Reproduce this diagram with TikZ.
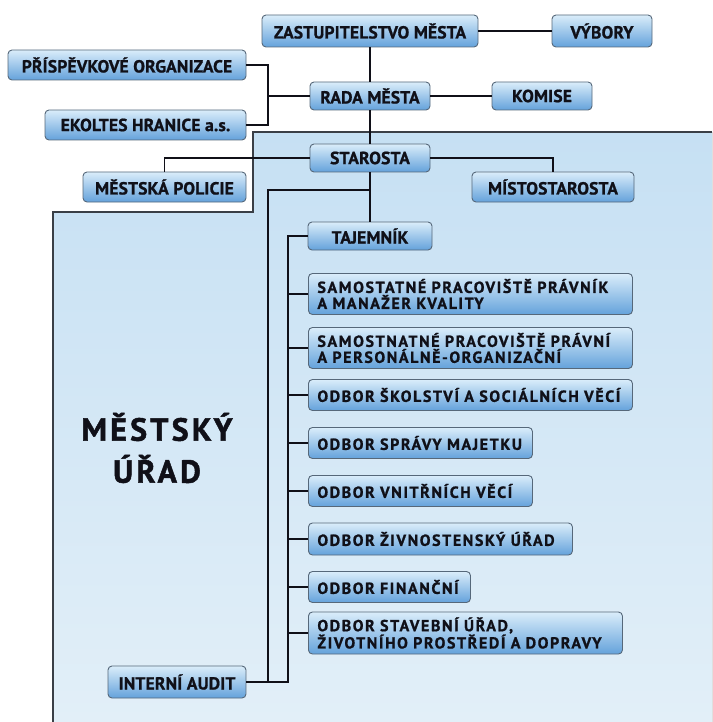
\documentclass[tikz,border=0pt]{standalone}
\usepackage{fontspec}
\usepackage{tikz}
\usetikzlibrary{positioning, calc}
\setmainfont{PT Sans}
\newfontfamily\boxfont[LetterSpace=1, BoldFeatures={FakeBold=1}]{PT Sans}
\newfontfamily\widefont[LetterSpace=10, BoldFeatures={FakeBold=1}]{PT Sans}
\newfontfamily\bigfont[LetterSpace=10, BoldFeatures={FakeBold=1.5}]{PT Sans}
\definecolor{ink}{HTML}{101018}
\definecolor{boxedge}{HTML}{56687A}
\definecolor{boxtop}{HTML}{DAEDFA}
\definecolor{boxmid}{HTML}{AFD4F1}
\definecolor{boxbot}{HTML}{64A2DB}
\definecolor{paneltop}{HTML}{C6E0F3}
\definecolor{panelbot}{HTML}{E2EFF8}
\definecolor{panelline}{HTML}{3A3F46}

\begin{document}
\begin{tikzpicture}[
  x=1pt, y=-1pt,
  unit/.style={rectangle, rounded corners=4pt, draw=boxedge, line width=0.9pt,
               top color=boxtop, middle color=boxmid, bottom color=boxbot,
               minimum height=28pt, inner sep=0pt, align=center,
               font=\boxfont\bfseries\fontsize{17.5}{18}\selectfont\color{ink}},
  odbor/.style={unit, anchor=west, align=left, inner xsep=9pt, text width=#1,
                font=\widefont\bfseries\fontsize{16}{16}\selectfont\color{ink}},
  link/.style={line width=1.4pt, draw=ink}
]
  \useasboundingbox (0,0) rectangle (712,722);

  % panel of the town office
  \fill[top color=paneltop, bottom color=panelbot]
    (253,132) -- (712,132) -- (712,722) -- (53,722) -- (53,212) -- (253,212) -- cycle;
  \draw[panelline, line width=1.2pt] (712,132) -- (253,132) -- (253,212) -- (53,212) -- (53,722);
  \node[font=\bigfont\bfseries\fontsize{32}{42}\selectfont\color{ink}, align=center] (urad) at (157,448) {MĚSTSKÝ\\ÚŘAD};

  % top level
  \node[unit, minimum width=216pt, minimum height=32pt] (zast) at (370,31) {ZASTUPITELSTVO MĚSTA};
  \node[unit, minimum width=100pt, minimum height=32pt] (vybory) at (602,31) {VÝBORY};
  \node[unit, minimum width=238pt, minimum height=30pt] (prisp) at (127,65) {PŘÍSPĚVKOVÉ ORGANIZACE};
  \node[unit, minimum width=120pt] (rada) at (370,96) {RADA MĚSTA};
  \node[unit, minimum width=100pt] (komise) at (542,96) {KOMISE};
  \node[unit, minimum width=201pt, minimum height=30pt] (ekoltes) at (145.5,125) {EKOLTES HRANICE a.s.};
  \node[unit, minimum width=120pt] (starosta) at (370,158) {STAROSTA};
  \node[unit, minimum width=163pt, minimum height=30pt] (policie) at (164.5,187) {MĚSTSKÁ POLICIE};
  \node[unit, minimum width=162pt, minimum height=30pt] (mistost) at (553,187) {MÍSTOSTAROSTA};
  \node[unit, minimum width=124pt] (tajemnik) at (370,236) {TAJEMNÍK};

  % departments
  \node[odbor=306pt, minimum height=41pt] (pravnik) at (308,294) {SAMOSTATNÉ PRACOVIŠTĚ PRÁVNÍK\\A MANAŽER KVALITY};
  \node[odbor=306pt, minimum height=41pt] (personal) at (308,348) {SAMOSTNATNÉ PRACOVIŠTĚ PRÁVNÍ\\A PERSONÁLNĚ-ORGANIZAČNÍ};
  \node[odbor=306pt, minimum height=31pt] (skolstvi) at (308,395) {ODBOR ŠKOLSTVÍ A SOCIÁLNÍCH VĚCÍ};
  \node[odbor=206pt, minimum height=31pt] (majetek) at (308,443) {ODBOR SPRÁVY MAJETKU};
  \node[odbor=206pt, minimum height=31pt] (vnitrni) at (308,491) {ODBOR VNITŘNÍCH VĚCÍ};
  \node[odbor=246pt, minimum height=32pt] (zivnost) at (308,539) {ODBOR ŽIVNOSTENSKÝ ÚŘAD};
  \node[odbor=144pt, minimum height=31pt] (financni) at (308,587) {ODBOR FINANČNÍ};
  \node[odbor=296pt, minimum height=42pt] (stavebni) at (308,633) {ODBOR STAVEBNÍ ÚŘAD,\\ŽIVOTNÍHO PROSTŘEDÍ A DOPRAVY};
  \node[unit, minimum width=138pt, minimum height=32pt] (audit) at (177,682) {INTERNÍ AUDIT};

  % connectors
  \coordinate (orgbus) at (268,96);
  \coordinate (split) at (370,190);
  \coordinate (auditbus) at (268,682);
  \coordinate (odborbus) at (288,682);

  \draw[link] (zast) -- (vybory);
  \draw[link] (zast) -- (rada);
  \draw[link] (rada) -- (komise);
  \draw[link] (rada) -- (starosta);
  \draw[link] (prisp.east) -| (orgbus) |- (ekoltes.east);
  \draw[link] (rada.west) -- (orgbus);
  \draw[link] (starosta.west) -| (policie.north);
  \draw[link] (starosta.east) -| (mistost.north);
  \draw[link] (starosta) -- (tajemnik);
  \draw[link] (split) -| (auditbus);
  \draw[link] (tajemnik.west) -| (odborbus) -- (audit.east);
  \foreach \n in {pravnik, personal, skolstvi, majetek, vnitrni, zivnost, financni, stavebni}
    \draw[link] (\n.west) -- (\n.west -| odborbus);
\end{tikzpicture}
\end{document}
